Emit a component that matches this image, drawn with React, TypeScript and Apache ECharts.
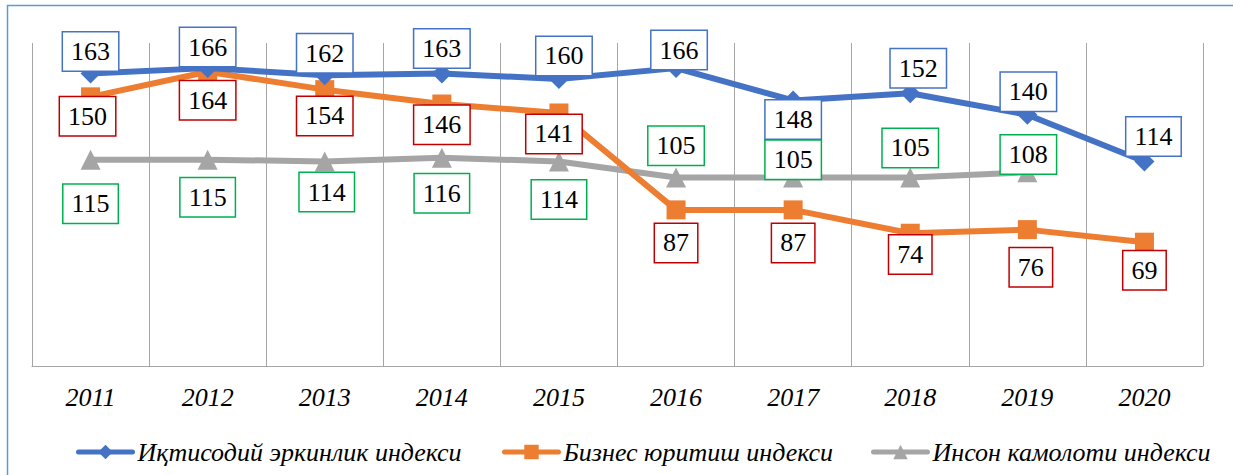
import { useEffect, useRef } from "react";
import * as echarts from "echarts";

const years = ["2011", "2012", "2013", "2014", "2015", "2016", "2017", "2018", "2019", "2020"];
const economicFreedom = [163, 166, 162, 163, 160, 166, 148, 152, 140, 114];
const doingBusiness = [150, 164, 154, 146, 141, 87, 87, 74, 76, 69];
const humanDevelopment: (number | null)[] = [115, 115, 114, 116, 114, 105, 105, 105, 108, null];

const seriesNames = [
  "Иқтисодий эркинлик индекси",
  "Бизнес юритиш индекси",
  "Инсон камолоти индекси",
];

// label placement (layout only)
const blueOffsets = [[0, -22], [0, -21], [0, -22], [0, -25], [5, -23], [3, -18], [0, 19], [8, -25], [1, -23], [9, -25]];
const orangeOffsets = [[-3, 19.5], [0, 28.6], [0, 26.3], [0, 20.7], [-5, 21], [0, 33], [0, 33], [0, 21.3], [3.5, 37.6], [0, 28]];
const grayOffsets = [[0, 44], [0, 37.6], [2, 30.6], [0, 35.5], [0, 38], [0, -31.8], [0, -17.8], [0, -29.6], [1, -17.7]];

const FONT = "Liberation Serif";

function withLabels(values: (number | null)[], offsets: number[][]) {
  return values.map((v, i) =>
    v == null ? null : { value: v, label: { offset: offsets[i] || [0, 0] } }
  );
}

function labelStyle(border: string) {
  return {
    show: true,
    position: "inside",
    color: "#000",
    fontFamily: FONT,
    fontSize: 26,
    lineHeight: 26,
    backgroundColor: "#fff",
    borderColor: border,
    borderWidth: 1.5,
    padding: [6, 8, 6, 8],
  };
}

export default function App() {
  const ref = useRef<HTMLDivElement>(null);
  useEffect(() => {
    if (!ref.current) return;
    const chart = echarts.init(ref.current, null, { renderer: "svg" });
    const legendText = { fontFamily: FONT, fontSize: 26, fontStyle: "italic", color: "#000", lineHeight: 26 };
    const legendCommon = {
      top: 434,
      itemWidth: 54,
      itemHeight: 18,
      textStyle: legendText,
      lineStyle: { width: 5, cap: "round" },
    };
    chart.setOption({
      animation: false,
      backgroundColor: "#fff",
      textStyle: { fontFamily: FONT },
      graphic: [
        {
          type: "rect",
          shape: { x: 7.5, y: 5.5, width: 1300, height: 500 },
          style: { fill: "none", stroke: "#5B9BD5", lineWidth: 1.5 },
          silent: true,
        },
      ],
      grid: { left: 32, right: 30, top: 43, bottom: 109, containLabel: false },
      legend: [
        { ...legendCommon, data: [seriesNames[0]], left: 71 },
        { ...legendCommon, data: [seriesNames[1]], left: 497 },
        { ...legendCommon, data: [seriesNames[2]], left: 866 },
      ],
      xAxis: {
        type: "category",
        data: years,
        boundaryGap: true,
        axisLine: { show: true, lineStyle: { color: "#A6A6A6", width: 1 } },
        axisTick: { show: false },
        splitLine: { show: true, lineStyle: { color: "#A6A6A6", width: 1 } },
        axisLabel: { fontFamily: FONT, fontSize: 26, fontStyle: "italic", color: "#000", margin: 18 },
      },
      yAxis: {
        type: "value",
        min: 0,
        max: 180,
        show: false,
        splitLine: { show: false },
      },
      series: [
        {
          name: seriesNames[0],
          type: "line",
          data: withLabels(economicFreedom, blueOffsets),
          symbol: "diamond",
          symbolSize: 20,
          lineStyle: { color: "#4472C4", width: 6 },
          itemStyle: { color: "#4472C4" },
          label: labelStyle("#4472C4"),
          z: 4,
        },
        {
          name: seriesNames[1],
          type: "line",
          data: withLabels(doingBusiness, orangeOffsets),
          symbol: "rect",
          symbolSize: 19,
          lineStyle: { color: "#ED7D31", width: 6 },
          itemStyle: { color: "#ED7D31" },
          label: labelStyle("#C00000"),
          z: 3,
        },
        {
          name: seriesNames[2],
          type: "line",
          data: withLabels(humanDevelopment, grayOffsets),
          symbol: "triangle",
          symbolSize: 20,
          connectNulls: false,
          lineStyle: { color: "#A5A5A5", width: 6 },
          itemStyle: { color: "#A5A5A5" },
          label: labelStyle("#00B050"),
          z: 2,
        },
      ],
    });
    return () => chart.dispose();
  }, []);
  return (
    <div
      ref={ref}
      style={{ position: "fixed", left: 0, top: 0, width: 1233, height: 475 }}
    />
  );
}
